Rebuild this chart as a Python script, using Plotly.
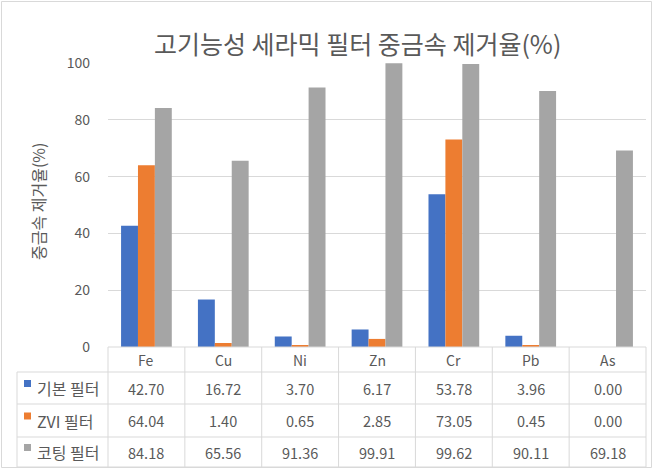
import plotly.graph_objects as go

categories = ["Fe", "Cu", "Ni", "Zn", "Cr", "Pb", "As"]
series_names = ["기본 필터", "ZVI 필터", "코팅 필터"]
basic = [42.70, 16.72, 3.70, 6.17, 53.78, 3.96, 0.00]
zvi = [64.04, 1.40, 0.65, 2.85, 73.05, 0.45, 0.00]
coated = [84.18, 65.56, 91.36, 99.91, 99.62, 90.11, 69.18]
colors = ["#4472C4", "#ED7D31", "#A5A5A5"]
y_ticks = [0, 20, 40, 60, 80, 100]
title = "고기능성 세라믹 필터 중금속 제거율(%)"
y_title = "중금속 제거율(%)"

W, H = 654, 469
L, R, T, B = 108, 8, 63, 122
PW, PH = W - L - R, H - T - B
FONT = "Noto Sans CJK KR, Malgun Gothic, sans-serif"
TXT = "#595959"
LINE = "#D9D9D9"


def px(x):
    return (x - L) / PW


def py(y):
    return (H - B - y) / PH


series = [basic, zvi, coated]
fig = go.Figure()
for name, vals, c in zip(series_names, series, colors):
    fig.add_trace(go.Bar(x=categories, y=vals, name=name, marker_color=c,
                         marker_line_width=0, showlegend=False))

shapes = []
annotations = []
n = len(categories)
row_lines = [347, 372, 404, 437, 467]
row_centers = [360, 388, 420.5, 452]
left_x = 17

for i, yl in enumerate(row_lines):
    x0 = L if i == 0 else left_x
    shapes.append(dict(type="line", xref="paper", yref="paper", x0=px(x0), x1=1,
                       y0=py(yl), y1=py(yl), line=dict(color=LINE, width=1)))
for k in range(n + 1):
    shapes.append(dict(type="line", xref="paper", yref="paper", x0=k / n, x1=k / n,
                       y0=py(347), y1=py(467), line=dict(color=LINE, width=1)))
shapes.append(dict(type="line", xref="paper", yref="paper", x0=px(left_x), x1=px(left_x),
                   y0=py(372), y1=py(467), line=dict(color=LINE, width=1)))
shapes.append(dict(type="rect", xref="paper", yref="paper", x0=px(1.5), x1=px(651.5),
                   y0=py(1.5), y1=py(467.5), line=dict(color=LINE, width=1)))


def ann(x, y, text, size, xref="paper", xanchor="center", angle=0):
    annotations.append(dict(x=x, y=y, xref=xref, yref="paper", text=text, showarrow=False,
                            xanchor=xanchor, yanchor="middle", textangle=angle,
                            font=dict(size=size, color=TXT, family=FONT)))


for cat in categories:
    ann(cat, py(row_centers[0]), cat, 14, xref="x")
for r, (name, vals, c) in enumerate(zip(series_names, series, colors)):
    yc = row_centers[r + 1]
    for cat, v in zip(categories, vals):
        ann(cat, py(yc), f"{v:.2f}", 14.5, xref="x")
    ann(px(35), py(yc), name, 16, xanchor="left")
    shapes.append(dict(type="rect", xref="paper", yref="paper", x0=px(24), x1=px(31),
                       y0=py(yc - 1), y1=py(yc - 8), fillcolor=c, line=dict(width=0)))

ann(px(38), py(202), y_title, 16, angle=-90)
ann(px(357), py(43), title, 25)

fig.update_layout(
    width=W, height=H,
    margin=dict(l=L, r=R, t=T, b=B),
    paper_bgcolor="white", plot_bgcolor="white",
    barmode="group", bargap=0.34, bargroupgap=0,
    font=dict(family=FONT, color=TXT),
    shapes=shapes, annotations=annotations,
)
fig.update_xaxes(range=[-0.5, n - 0.5], showticklabels=False, ticks="",
                 showgrid=False, zeroline=False, showline=False)
fig.update_yaxes(range=[0, 100], tickvals=y_ticks, showgrid=True, gridcolor=LINE,
                 gridwidth=1, zeroline=False, showline=False, ticks="",
                 ticklabelstandoff=17, tickfont=dict(size=14, color=TXT, family=FONT))

fig.write_html("out.html")
